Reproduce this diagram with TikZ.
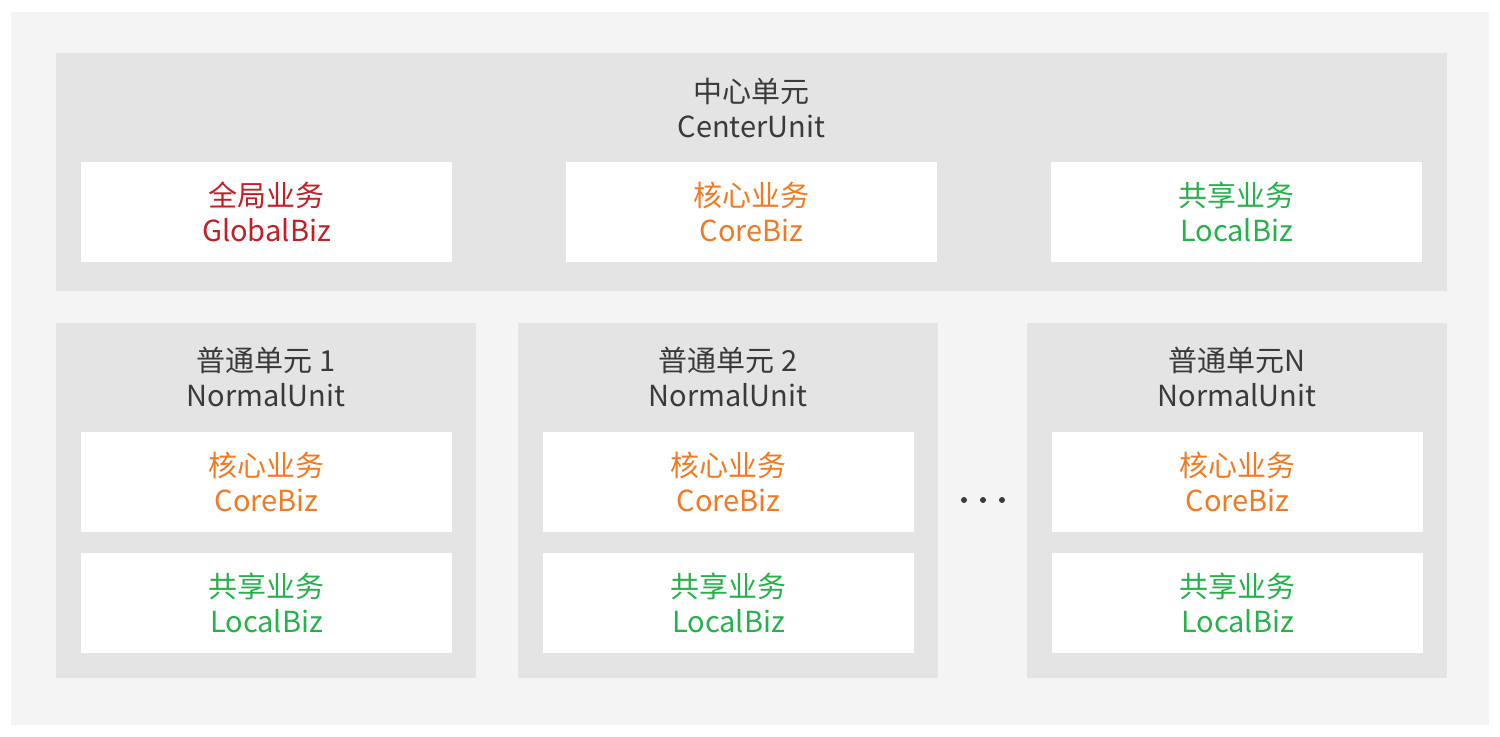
\documentclass[tikz,border=0pt]{standalone}
\usepackage{fontspec}
\setmainfont{Noto Sans CJK SC}
\usetikzlibrary{positioning}
\definecolor{outergray}{HTML}{F4F4F4}
\definecolor{unitgray}{HTML}{E4E4E4}
\definecolor{titlegray}{HTML}{3A3A3A}
\definecolor{globalred}{HTML}{C21F26}
\definecolor{coreorange}{HTML}{F27A22}
\definecolor{localgreen}{HTML}{26B24B}
\tikzset{
    unitbox/.style={fill=unitgray, inner sep=0pt},
    bizbox/.style={fill=white, inner sep=0pt, minimum width=185.5pt, minimum height=50pt,
        align=center, font=\fontsize{14.5}{17.5}\selectfont},
    unittitle/.style={align=center, text=titlegray, font=\fontsize{14.5}{17.5}\selectfont}
}
\begin{document}
\begin{tikzpicture}[x=0.5pt, y=-0.5pt]
\fill[white](0,0) rectangle (1500,736);
\useasboundingbox(0,0) rectangle (1500,736);
\fill[outergray](11,12) rectangle (1489,725);
% center unit
\node[unitbox, minimum width=695.5pt, minimum height=119pt](center) at (751.5,172){};
\node[unittitle](centertitle) at (751.5,107.5){中心单元\\CenterUnit};
\node[bizbox, text=globalred](global) at (266.5,212){\raisebox{1pt}{\parbox{150pt}{\centering 全局业务\\GlobalBiz}}};
\node[bizbox, text=coreorange](ccore) at (751.5,212){\raisebox{1pt}{\parbox{150pt}{\centering 核心业务\\CoreBiz}}};
\node[bizbox, text=localgreen](clocal) at (1236.5,212){\raisebox{1pt}{\parbox{150pt}{\centering 共享业务\\LocalBiz}}};
% normal units
\foreach \n/\x/\t in {1/266/普通单元 1, 2/728/普通单元 2, 3/1237/普通单元N}
{
    \node[unitbox, minimum width=210pt, minimum height=177.5pt](unit\n) at (\x,500.5){};
    \node[unittitle](title\n) at (\x,376.5){\t\\NormalUnit};
    \node[bizbox, text=coreorange](core\n) at (\x+0.5,481.5){\raisebox{1pt}{\parbox{150pt}{\centering 核心业务\\CoreBiz}}};
    \node[bizbox, text=localgreen](local\n) at (\x+0.5,603){\raisebox{1pt}{\parbox{150pt}{\centering 共享业务\\LocalBiz}}};
}
\foreach \x in {964,983,1002}
{
    \fill[titlegray](\x,500) circle(3);
}
\end{tikzpicture}
\end{document}
